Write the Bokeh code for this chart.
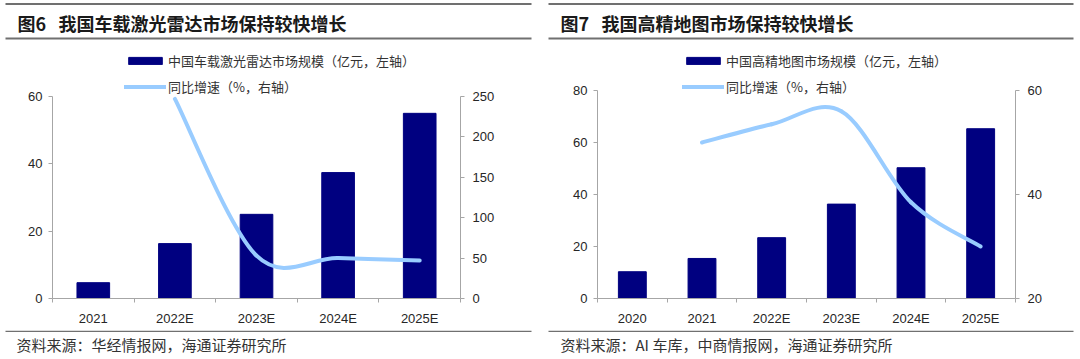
from bokeh.plotting import figure
from bokeh.models import (Range1d, LinearAxis, FixedTicker, Label,
                          Legend, LegendItem, ColumnDataSource)
from bokeh.layouts import row, column
from bokeh.embed import file_html
from bokeh.resources import INLINE

# ---------------- data ----------------
lidar_years = ["2021", "2022E", "2023E", "2024E", "2025E"]
lidar_size = [4.7, 16.3, 25.0, 37.4, 55.0]
lidar_growth_years = ["2022E", "2023E", "2024E", "2025E"]
lidar_growth = [247, 53, 50, 47]

hdmap_years = ["2020", "2021", "2022E", "2023E", "2024E", "2025E"]
hdmap_size = [10.3, 15.4, 23.4, 36.3, 50.3, 65.3]
hdmap_growth_years = ["2021", "2022E", "2023E", "2024E", "2025E"]
hdmap_growth = [50.0, 53.5, 56.0, 38.5, 30.0]

lidar_left_ticks = [0, 20, 40, 60]
lidar_right_ticks = [0, 50, 100, 150, 200, 250]
hdmap_left_ticks = [0, 20, 40, 60, 80]
hdmap_right_ticks = [20, 40, 60]

titles = [("图6", "我国车载激光雷达市场保持较快增长"), ("图7", "我国高精地图市场保持较快增长")]
bar_labels = ["中国车载激光雷达市场规模（亿元，左轴）", "中国高精地图市场规模（亿元，左轴）"]
line_label = "同比增速（%，右轴）"
sources = ["资料来源：华经情报网，海通证券研究所", "资料来源：AI 车库，中商情报网，海通证券研究所"]

BAR = "#000080"
LINE = "#99CCFF"
AXIS = "#A6A6A6"
RULE = "#707070"
TXT = "#262626"
NUM_FONT = "Liberation Sans"
CJK_FONT = "Noto Sans CJK SC"

TOTAL_W = 1080
PW = 540
HEAD_H = 40
FOOT_H = 29
CHART_H = 359 - HEAD_H - FOOT_H      # 290
FRAME_TOP = 5                        # frame top inside chart figure
AXIS_BOTTOM_PAGE = 298               # page y of the x axis
CHART_BB = HEAD_H + CHART_H - AXIS_BOTTOM_PAGE


def smooth_segments(xs, ys, k=1.0 / 6.0):
    """Cubic Bezier control points (Catmull-Rom style) through the data points."""
    n = len(xs)
    d = dict(x0=[], y0=[], x1=[], y1=[], cx0=[], cy0=[], cx1=[], cy1=[])
    for i in range(n - 1):
        a = i - 1 if i > 0 else i
        b = i + 2 if i + 2 < n else i + 1
        d["x0"].append(xs[i]); d["y0"].append(ys[i])
        d["x1"].append(xs[i + 1]); d["y1"].append(ys[i + 1])
        d["cx0"].append(xs[i] + (xs[i + 1] - xs[a]) * k)
        d["cy0"].append(ys[i] + (ys[i + 1] - ys[a]) * k)
        d["cx1"].append(xs[i + 1] - (xs[b] - xs[i]) * k)
        d["cy1"].append(ys[i + 1] - (ys[b] - ys[i]) * k)
    return d


def deco_fig(w, h):
    f = figure(width=w, height=h, output_backend="svg", toolbar_location=None,
               x_range=Range1d(0, w), y_range=Range1d(h, 0),
               x_axis_location=None, y_axis_location=None, min_border=0,
               min_border_left=0, min_border_right=0, min_border_top=0,
               min_border_bottom=0)
    f.title.visible = False
    f.outline_line_color = None
    f.grid.visible = False
    return f


def style_axis(ax, standoff):
    ax.major_label_standoff = standoff
    ax.major_label_text_font = NUM_FONT
    ax.major_label_text_font_size = "13px"
    ax.major_label_text_color = TXT
    ax.axis_line_color = AXIS


def chart(years, size, gyears, growth, lticks, rticks, bar_label, bl, br,
          axis_top_page, legend_x):
    n = len(years)
    frame_top_page = HEAD_H + FRAME_TOP
    # extend ranges upward so that the legend area lies inside the frame
    scale = (AXIS_BOTTOM_PAGE - frame_top_page) / (AXIS_BOTTOM_PAGE - axis_top_page)
    lmax = lticks[0] + (lticks[-1] - lticks[0]) * scale
    rmax = rticks[0] + (rticks[-1] - rticks[0]) * scale

    p = figure(width=PW, height=CHART_H, output_backend="svg", toolbar_location=None,
               x_range=Range1d(0, n), y_range=Range1d(lticks[0], lmax),
               min_border_left=bl, min_border_right=br,
               min_border_top=FRAME_TOP, min_border_bottom=CHART_BB)
    p.title.visible = False
    p.outline_line_color = None
    p.xgrid.visible = False
    p.ygrid.visible = False
    p.extra_y_ranges = {"r": Range1d(rticks[0], rmax)}

    centers = [i + 0.5 for i in range(n)]
    bars = p.vbar(x=centers, top=size, width=0.4, fill_color=BAR, line_color=BAR)

    gx = [years.index(y) + 0.5 for y in gyears]
    seg = ColumnDataSource(smooth_segments(gx, growth))
    curve = p.bezier(x0="x0", y0="y0", x1="x1", y1="y1", cx0="cx0", cy0="cy0",
                     cx1="cx1", cy1="cy1", source=seg, y_range_name="r",
                     line_color=LINE, line_width=4, line_cap="round")

    xa = p.xaxis[0]
    xa.ticker = FixedTicker(ticks=centers, minor_ticks=list(range(n + 1)))
    xa.major_label_overrides = {c: y for c, y in zip(centers, years)}
    xa.major_tick_line_color = None
    xa.minor_tick_line_color = AXIS
    xa.minor_tick_in = 0
    xa.minor_tick_out = 4
    style_axis(xa, 6)

    ya = p.yaxis[0]
    ya.ticker = FixedTicker(ticks=lticks)
    ya.bounds = (lticks[0], lticks[-1])
    ya.minor_tick_line_color = None
    ya.major_tick_in = 0
    ya.major_tick_out = 4
    ya.major_tick_line_color = AXIS
    style_axis(ya, 6)

    ra = LinearAxis(y_range_name="r", ticker=FixedTicker(ticks=rticks),
                    bounds=(rticks[0], rticks[-1]))
    ra.minor_tick_line_color = None
    ra.major_tick_in = 0
    ra.major_tick_out = 4
    ra.major_tick_line_color = AXIS
    style_axis(ra, 8)
    p.add_layout(ra, "right")

    legend = Legend(items=[LegendItem(label=bar_label, renderers=[bars]),
                           LegendItem(label=line_label, renderers=[curve])],
                    location=(legend_x, AXIS_BOTTOM_PAGE - 96), orientation="vertical",
                    glyph_width=42, glyph_height=9, label_height=18, spacing=7,
                    label_standoff=2, padding=0, margin=0,
                    border_line_color=None, background_fill_alpha=0,
                    label_text_font=CJK_FONT, label_text_font_size="13px",
                    label_text_color="#333333")
    p.add_layout(legend, "center")
    return p


# ---------- header ----------
head = deco_fig(TOTAL_W, HEAD_H)
rule_x0 = [5, 548]
rule_x1 = [531, 1073]
head.quad(left=rule_x0 * 2, right=rule_x1 * 2, top=[2.5, 2.5, 37, 37],
          bottom=[4.5, 4.5, 39, 39], fill_color=RULE, line_color=None)
for (no, t), tx in zip(titles, [17, 560]):
    head.add_layout(Label(x=tx, y=22, text=no, text_font=CJK_FONT,
                          text_font_size="18px", text_font_style="bold",
                          text_color="#1a1a1a", text_baseline="middle"))
    head.add_layout(Label(x=tx + 41, y=22, text=t, text_font=CJK_FONT,
                          text_font_size="18px", text_font_style="bold",
                          text_color="#1a1a1a", text_baseline="middle"))

# ---------- charts ----------
p1 = chart(lidar_years, lidar_size, lidar_growth_years, lidar_growth,
           lidar_left_ticks, lidar_right_ticks, bar_labels[0],
           bl=52, br=80, axis_top_page=96, legend_x=72)
p2 = chart(hdmap_years, hdmap_size, hdmap_growth_years, hdmap_growth,
           hdmap_left_ticks, hdmap_right_ticks, bar_labels[1],
           bl=57, br=65, axis_top_page=90, legend_x=85)

# ---------- footer ----------
foot = deco_fig(TOTAL_W, FOOT_H)
foot.quad(left=rule_x0, right=rule_x1, top=[0, 0], bottom=[1.5, 1.5],
          fill_color=RULE, line_color=None)
for s, sx in zip(sources, [16, 560]):
    foot.add_layout(Label(x=sx, y=14, text=s, text_font=CJK_FONT,
                          text_font_size="15px", text_color="#333333",
                          text_baseline="middle"))

layout = column(head, row(p1, p2, spacing=0), foot, spacing=0)
open("out.html", "w").write(file_html(layout, INLINE))
